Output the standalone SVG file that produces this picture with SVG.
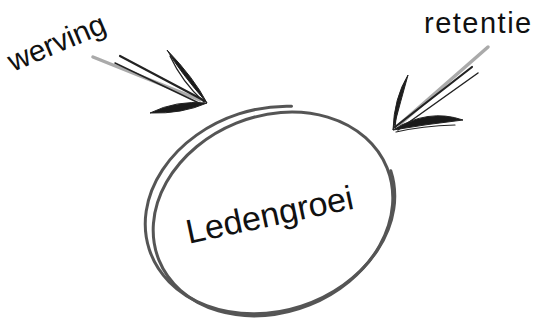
<svg xmlns="http://www.w3.org/2000/svg" width="544" height="325" viewBox="0 0 544 325">
<style>
.lbl{font-family:"Liberation Sans",Arial,sans-serif;fill:#111}
.stroke{fill:none;stroke:#222;stroke-linecap:round;stroke-linejoin:round}
.leaf{fill:#1a1a1a;stroke:#222;stroke-width:1;stroke-linejoin:round}
.light{fill:none;stroke:#aaa;stroke-linecap:round}
.ring{fill:none;stroke:#555;stroke-width:3;stroke-linecap:round}
</style>
<rect width="544" height="325" fill="#fff"/>
<g id="connectors">
  <g id="arrow-werving">
    <path class="light" d="M93,57 L200,100" stroke-width="3.5"/>
    <path class="stroke" d="M120,56 L205,101" stroke-width="2.2"/>
    <path class="stroke" d="M115,63 L201,104" stroke-width="1.5"/>
    <path class="leaf" d="M167,50 Q180,72 207,103 Q194,78 167,50 Z"/>
    <path class="stroke" d="M170,56 Q182,82 204,102" stroke-width="1.3"/>
    <path class="leaf" d="M150,113 Q176,100 207,103 Q182,114 150,113 Z"/>
  </g>
  <g id="arrow-retentie">
    <path class="light" d="M488,47 L400,124" stroke-width="3.5"/>
    <path class="stroke" d="M472,67 L395,127" stroke-width="2.2"/>
    <path class="stroke" d="M478,73 L398,130" stroke-width="1.5"/>
    <path class="leaf" d="M408,75 Q394,98 393,130 Q401,100 408,75 Z"/>
    <path class="stroke" d="M405,82 Q396,108 395,128" stroke-width="1.2"/>
    <path class="leaf" d="M463,120 Q428,108 393,130 Q428,124 463,120 Z"/>
    <path class="stroke" d="M455,125 Q422,126 396,132" stroke-width="1.2"/>
  </g>
</g>
<g id="label-werving">
  <text class="lbl" x="0" y="0" font-size="30" transform="translate(13,72) rotate(-23)">werving</text>
</g>
<g id="label-retentie">
  <text class="lbl" x="424" y="33" font-size="29" letter-spacing="1.5">retentie</text>
</g>
<g id="node-ledengroei">
  <ellipse class="ring" cx="273" cy="214" rx="123" ry="98" transform="rotate(-22 273 214)"/>
  <ellipse class="ring" cx="270" cy="210" rx="127" ry="101" transform="rotate(-18 270 210)" stroke-width="2.5" stroke-dasharray="592 200"/>
  <text class="lbl" x="0" y="0" font-size="34" text-anchor="middle" transform="translate(272,226) rotate(-12)">Ledengroei</text>
</g>
</svg>
